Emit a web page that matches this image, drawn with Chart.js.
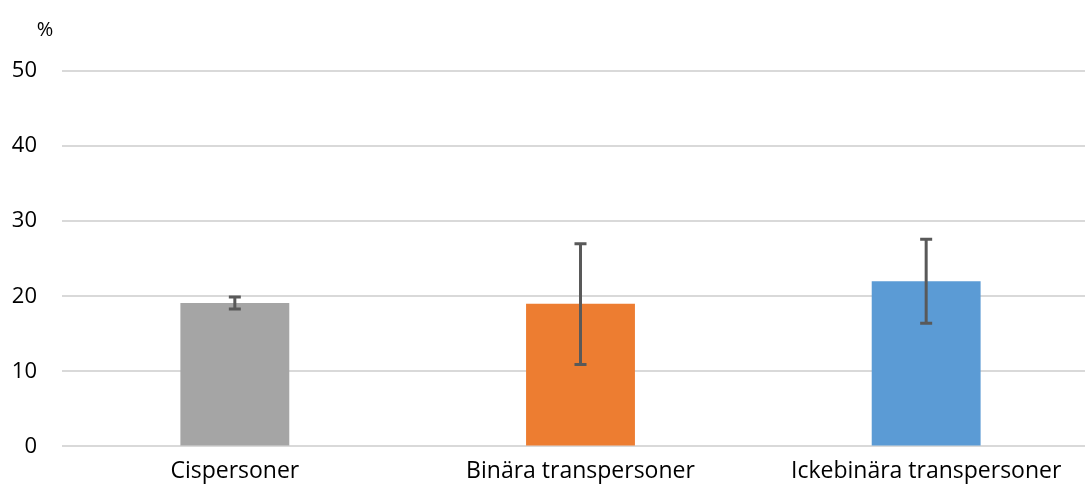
<!DOCTYPE html>
<html>
<head>
<meta charset="utf-8">
<script src="https://cdn.jsdelivr.net/npm/chart.js@4"></script>
<style>
  html, body { margin: 0; padding: 0; background: #fff; overflow: hidden; }
  /* plot runs a little past the right edge, like the original */
  #wrap { width: 1099px; height: 492px; }
</style>
</head>
<body>
<div id="wrap"><canvas id="my-chart"></canvas></div>
<script>
'use strict';

//**************DATA********** */
let categories = ['Cispersoner', 'Binära transpersoner', 'Ickebinära transpersoner'];
let values = [19.1, 19.0, 22.0];
let errLow = [18.3, 10.9, 16.4];
let errHigh = [19.9, 27.0, 27.6];
let barColors = ['#a5a5a5', '#ed7d31', '#5b9bd5'];
let yTicks = [0, 10, 20, 30, 40, 50];

let fontFamily = '"Open Sans", "Liberation Sans", sans-serif';

//************ERROR BARS + % LABEL********* */
let errorBarPlugin = {
  id: 'errorBars',
  afterDatasetsDraw(chart) {
    let c = chart.ctx;
    let xScale = chart.scales.x;
    let yScale = chart.scales.y;
    c.save();
    c.strokeStyle = '#595959';
    c.lineWidth = 3;
    for (let i = 0; i < values.length; i++) {
      let x = xScale.getPixelForValue(i);
      let yLo = yScale.getPixelForValue(errLow[i]);
      let yHi = yScale.getPixelForValue(errHigh[i]);
      c.beginPath();
      c.moveTo(x, yLo);
      c.lineTo(x, yHi);
      c.moveTo(x - 6, yLo);
      c.lineTo(x + 6, yLo);
      c.moveTo(x - 6, yHi);
      c.lineTo(x + 6, yHi);
      c.stroke();
    }
    c.fillStyle = '#000';
    c.font = '20px ' + fontFamily;
    c.textAlign = 'center';
    c.textBaseline = 'middle';
    c.fillText('%', 45, chart.chartArea.top - 41);
    c.restore();
  }
};

let ctx = document.getElementById('my-chart');

let chartObj = {
  type: 'bar',
  data: {
    labels: categories,
    datasets: [{
      data: values,
      backgroundColor: barColors,
      barPercentage: 0.315,
      categoryPercentage: 1.0
    }]
  },
  options: {
    responsive: true,
    maintainAspectRatio: false,
    animation: false,
    layout: { padding: { top: 71, right: 0, bottom: 4, left: 0 } },
    plugins: {
      legend: { display: false },
      tooltip: { enabled: false }
    },
    scales: {
      x: {
        grid: { display: false },
        border: { display: false },
        ticks: { color: '#000', font: { family: fontFamily, size: 23 }, padding: 3, maxRotation: 0 }
      },
      y: {
        min: 0,
        max: 50,
        afterFit: function (scale) { scale.width = 62; },
        afterBuildTicks: function (scale) {
          scale.ticks = yTicks.map(v => ({ value: v }));
        },
        grid: { color: '#d9d9d9', lineWidth: 2, drawTicks: false },
        border: { display: false },
        ticks: { color: '#000', font: { family: fontFamily, size: 22 }, padding: 25 }
      }
    }
  },
  plugins: [errorBarPlugin]
};

new Chart(ctx, chartObj);
</script>
</body>
</html>
